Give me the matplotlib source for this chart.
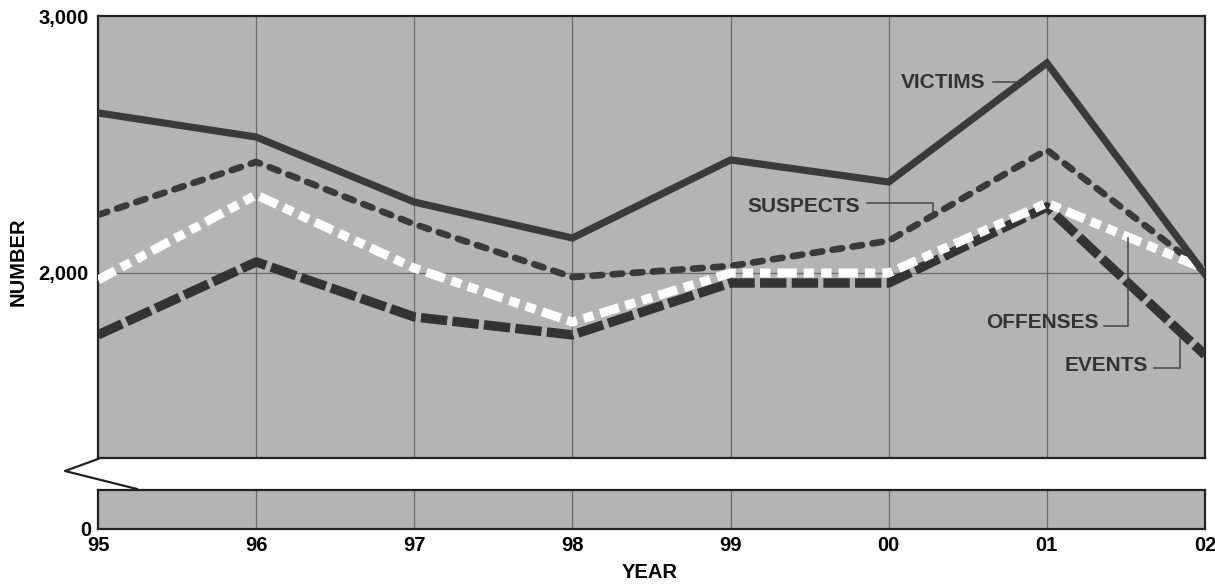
import matplotlib
matplotlib.use("Agg")
import matplotlib.pyplot as plt
from matplotlib.lines import Line2D

plt.rcParams["font.family"] = ["Liberation Sans", "DejaVu Sans"]
plt.rcParams["font.weight"] = "bold"
plt.rcParams["lines.scale_dashes"] = False

# Data
years = ["95", "96", "97", "98", "99", "00", "01", "02"]
victims = [2623, 2529, 2276, 2136, 2440, 2354, 2817, 1995]
suspects = [2226, 2432, 2190, 1984, 2027, 2125, 2479, 2005]
offenses = [1973, 2304, 2019, 1809, 2000, 2000, 2272, 2015]
events = [1759, 2043, 1829, 1759, 1961, 1961, 2257, 1681]

x = list(range(len(years)))
face = "#b4b4b4"
dark = "#3a3a3a"
grid_c = "#6a6a6a"

fig = plt.figure(figsize=(12.15, 5.84), dpi=100)
W, H = 1215, 584

def frac(px0, py0, px1, py1):
    return [px0 / W, 1 - py1 / H, (px1 - px0) / W, (py1 - py0) / H]

ax = fig.add_axes(frac(98, 16, 1205, 458))
axb = fig.add_axes(frac(98, 490, 1205, 529))

for a in (ax, axb):
    a.set_facecolor(face)
    a.set_xlim(0, len(years) - 1)
    for s in a.spines.values():
        s.set_linewidth(1.6)
        s.set_color("#222222")
    a.tick_params(length=0, labelsize=14.5, colors="black")
    for xi in x[1:-1]:
        a.axvline(xi, color=grid_c, lw=0.9, zorder=1)

ax.set_ylim(1280, 3000)
ax.set_yticks([2000, 3000])
ax.set_yticklabels(["2,000", "3,000"])
ax.axhline(2000, color=grid_c, lw=0.9, zorder=1)
ax.set_xticks([])
ax.tick_params(axis="y", pad=7)

axb.set_ylim(0, 152)
axb.set_yticks([0])
axb.set_yticklabels(["0"])
axb.set_xticks(x)
axb.set_xticklabels(years)
axb.tick_params(axis="x", pad=5)
axb.tick_params(axis="y", pad=5)

# Series
ax.plot(x, victims, color=dark, lw=5.2, solid_joinstyle="miter", zorder=5)
ax.plot(x, suspects, color=dark, lw=4.8, dashes=(7, 7.5), dash_capstyle="round", zorder=4)
ax.plot(x, events, color="#333333", lw=6.8, dashes=(19, 3.8), dash_capstyle="butt", zorder=3)
ax.plot(x, offenses, color="white", lw=6.5, dashes=(14, 5, 7.5, 5, 7.5, 5), dash_capstyle="butt", zorder=4)

# Labels with leader lines
lab = dict(fontsize=15, color="#333333", va="center", ha="right", zorder=6)
lead = dict(color="#444444", lw=1.1, zorder=6)
ax.text(5.61, 2743, "VICTIMS", **lab)
ax.plot([5.66, 5.8], [2743, 2743], **lead)
ax.text(4.82, 2258, "SUSPECTS", **lab)
ax.plot([4.86, 5.28, 5.28], [2272, 2272, 2215], **lead)
ax.text(6.33, 1806, "OFFENSES", **lab)
ax.plot([6.36, 6.51, 6.51], [1794, 1794, 2136], **lead)
ax.text(6.64, 1640, "EVENTS", **lab)
ax.plot([6.68, 6.84, 6.84], [1630, 1630, 1745], **lead)

# Axis break mark
fig.add_artist(Line2D([98 / W, 65 / W, 137 / W],
                      [1 - 459 / H, 1 - 471 / H, 1 - 489 / H],
                      color="#222222", lw=1.6))

fig.text(650 / W, 1 - 572 / H, "YEAR", ha="center", va="center", fontsize=14.5)
fig.text(18 / W, 1 - 262 / H, "NUMBER", ha="center", va="center", rotation=90, fontsize=14.5)

fig.savefig("out.png", dpi=100, facecolor="white")
